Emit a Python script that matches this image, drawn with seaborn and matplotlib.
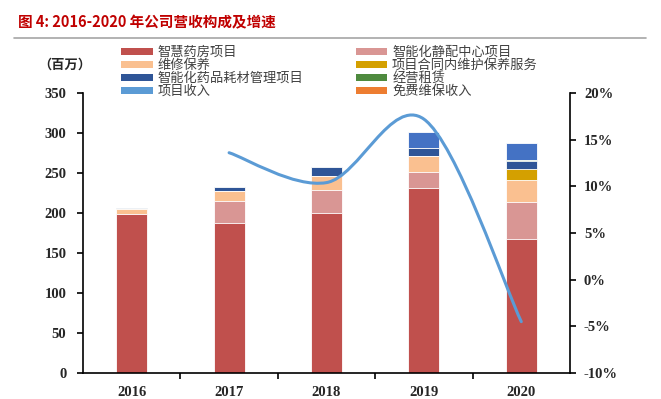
import numpy as np
import matplotlib
matplotlib.use("Agg")
import matplotlib.pyplot as plt
from matplotlib.patches import Patch, PathPatch
from matplotlib.path import Path
import seaborn as sns

years = ["2016", "2017", "2018", "2019", "2020"]
pharmacy = [199.0, 187.5, 200.5, 231.0, 167.5]      # 智慧药房项目
pivas = [0.0, 27.5, 28.5, 20.0, 46.5]               # 智能化静配中心项目
repair = [6.0, 12.5, 17.0, 20.0, 27.0]              # 维修保养
contract = [0.0, 0.0, 0.0, 0.0, 14.0]               # 项目合同内维护保养服务
consumable = [1.5, 5.0, 11.0, 10.0, 10.0]           # 智能化药品耗材管理项目
lease = [0.0, 0.0, 0.0, 0.5, 1.0]                   # 经营租赁
free_service = [0.0, 0.0, 0.0, 0.0, 0.0]            # 免费维保收入
other = [0.0, 0.0, 0.0, 20.0, 21.5]                 # 顶部蓝色部分
growth = [np.nan, 13.6, 10.4, 17.2, -4.5]           # 增速 (%)

series = [
    ("智慧药房项目", pharmacy, "#C0504D"),
    ("智能化静配中心项目", pivas, "#D99694"),
    ("维修保养", repair, "#FAC090"),
    ("项目合同内维护保养服务", contract, "#D4A000"),
    ("智能化药品耗材管理项目", consumable, "#2F5597"),
    ("经营租赁", lease, "#4E8A3E"),
    ("免费维保收入", free_service, "#ED7D31"),
    (None, other, "#4472C4"),
]
line_color = "#5B9BD5"

sns.set_style("ticks")
plt.rcParams["font.family"] = ["Noto Sans CJK SC", "DejaVu Sans"]

fig = plt.figure(figsize=(6.61, 3.99), dpi=100)
ax = fig.add_axes([83 / 661, 1 - 373 / 399, 487 / 661, 280 / 399])

# stacked bars: draw cumulative totals from top to bottom
cum = np.cumsum(np.array([s[1] for s in series]), axis=0)
for i in range(len(series) - 1, -1, -1):
    sns.barplot(x=years, y=cum[i], color=series[i][2], width=0.32, ax=ax,
                edgecolor="white", linewidth=0.6, saturation=1)

ax.set_xlim(-0.5, 4.5)
ax.set_ylim(0, 350)
ax.set_yticks(range(0, 351, 50))
ax.set_xlabel("")
ax.set_ylabel("")

serif = {"family": "Liberation Serif", "weight": "bold", "size": 10.5}
ax.set_yticklabels([str(v) for v in range(0, 351, 50)], fontdict=serif)
ax.set_xticks(range(len(years)))
ax.set_xticklabels(years, fontdict=serif)
ax.tick_params(axis="x", length=0, pad=9)
ax.set_xticks([0.5, 1.5, 2.5, 3.5], minor=True)
ax.tick_params(axis="x", which="minor", length=4, width=1.2, direction="out", color="black")
ax.tick_params(axis="y", length=4, width=1.2, direction="out", color="black", pad=8)

# growth rate line on the right axis (smoothed like the source chart)
ax2 = ax.twinx()
ax2.set_ylim(-10, 20)
ax2.set_yticks(range(-10, 21, 5))
ax2.set_yticklabels([f"{v}%" for v in range(-10, 21, 5)], fontdict=serif)
ax2.tick_params(axis="y", length=4, width=1.2, direction="out", color="black", pad=6)

xs = [i for i, g in enumerate(growth) if not np.isnan(g)]
ys = [g for g in growth if not np.isnan(g)]
pts = list(zip(xs, ys))
verts = [pts[0]]
codes = [Path.MOVETO]
for i in range(len(pts) - 1):
    p0 = pts[i - 1] if i > 0 else pts[i]
    p1 = pts[i]
    p2 = pts[i + 1]
    p3 = pts[i + 2] if i + 2 < len(pts) else pts[i + 1]
    c1 = (p1[0] + (p2[0] - p0[0]) / 6, p1[1] + (p2[1] - p0[1]) / 6)
    c2 = (p2[0] - (p3[0] - p1[0]) / 6, p2[1] - (p3[1] - p1[1]) / 6)
    verts += [c1, c2, p2]
    codes += [Path.CURVE4] * 3
ax2.add_patch(PathPatch(Path(verts, codes), facecolor="none",
                        edgecolor=line_color, linewidth=2.2, capstyle="round"))

for a in (ax, ax2):
    a.spines["top"].set_visible(False)
    for s in ("left", "right", "bottom"):
        a.spines[s].set_linewidth(1.2)
        a.spines[s].set_color("black")
ax.spines["right"].set_visible(False)
ax2.spines["left"].set_visible(False)
ax2.spines["bottom"].set_visible(False)

# legend
handles = {name: Patch(facecolor=c, edgecolor="none") for name, _, c in series if name}
handles["项目收入"] = Patch(facecolor=line_color, edgecolor="none")
order = ["智慧药房项目", "维修保养", "智能化药品耗材管理项目", "项目收入",
         "智能化静配中心项目", "项目合同内维护保养服务", "经营租赁", "免费维保收入"]
leg = fig.legend([handles[n] for n in order], order, ncol=2,
                 loc="upper left", bbox_to_anchor=(121 / 661, 1 - 46 / 399),
                 frameon=False, fontsize=9.5, handlelength=2.4, handleheight=0.45,
                 handletextpad=0.35, labelspacing=0.0, columnspacing=4.0,
                 borderaxespad=0, borderpad=0)
for t in leg.get_texts():
    t.set_color("#404040")

fig.text(38 / 661, 1 - 65 / 399, "（百万）", fontsize=9.5, fontweight="bold",
         va="center", ha="left", color="#262626")

# title and rule
fig.text(18 / 661, 1 - 22 / 399, "图 4: 2016-2020 年公司营收构成及增速",
         fontsize=10.5, fontweight="bold", color="#C00000", va="center", ha="left")
fig.add_artist(plt.Line2D([14 / 661, 646 / 661], [1 - 38 / 399, 1 - 38 / 399],
                          color="#A6A6A6", linewidth=1.2))

fig.savefig("out.png", dpi=100)
